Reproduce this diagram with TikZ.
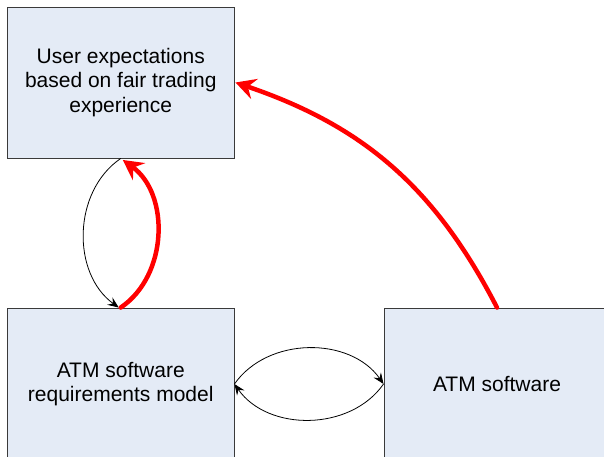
\documentclass[tikz,border=0pt]{standalone}
\usepackage{fontspec}
\setmainfont{Liberation Sans}
\usetikzlibrary{arrows.meta}
\definecolor{boxfill}{HTML}{E4EBF6}
\definecolor{boxline}{HTML}{3A3A3A}
\begin{document}
\begin{tikzpicture}[x=1pt,y=-1pt,
  box/.style={draw=boxline, line width=0.9pt, fill=boxfill, align=center,
    inner sep=0pt, font=\fontsize{21}{24.5}\selectfont},
  thinarrow/.style={draw=black, line width=0.8pt,
    -{Stealth[length=11pt,width=9pt,inset=4pt]}},
  redarrow/.style={draw=red, line width=4.5pt, line cap=round,
    -{Stealth[length=20pt,width=21pt,inset=7pt]}}]
\useasboundingbox (0,0) rectangle (604,457);
\clip (0,0) rectangle (604,457);
\fill[white] (0,0) rectangle (604,457);
\node[box, minimum width=226.5pt, minimum height=151pt] (user) at (120.75,82.5)
  {User expectations\\based on fair trading\\experience};
\node[box, minimum width=226.5pt, minimum height=152pt] (req) at (120.75,384)
  {ATM software\\requirements model};
\node[box, minimum width=226pt, minimum height=152pt] (atm) at (497,384)
  {ATM software};
\draw[thinarrow] (user.south) to[bend right=55] ([xshift=-2pt]req.north);
\draw[redarrow] (req.north) to[bend right=55] ([xshift=2pt,yshift=-1.5pt]user.south);
\draw[thinarrow] (req.east) to[bend left=55] (atm.west);
\draw[thinarrow] (atm.west) to[bend left=55] (req.east);
\draw[redarrow] (atm.north) to[bend right=22] ([xshift=1pt]user.east);
\end{tikzpicture}
\end{document}
